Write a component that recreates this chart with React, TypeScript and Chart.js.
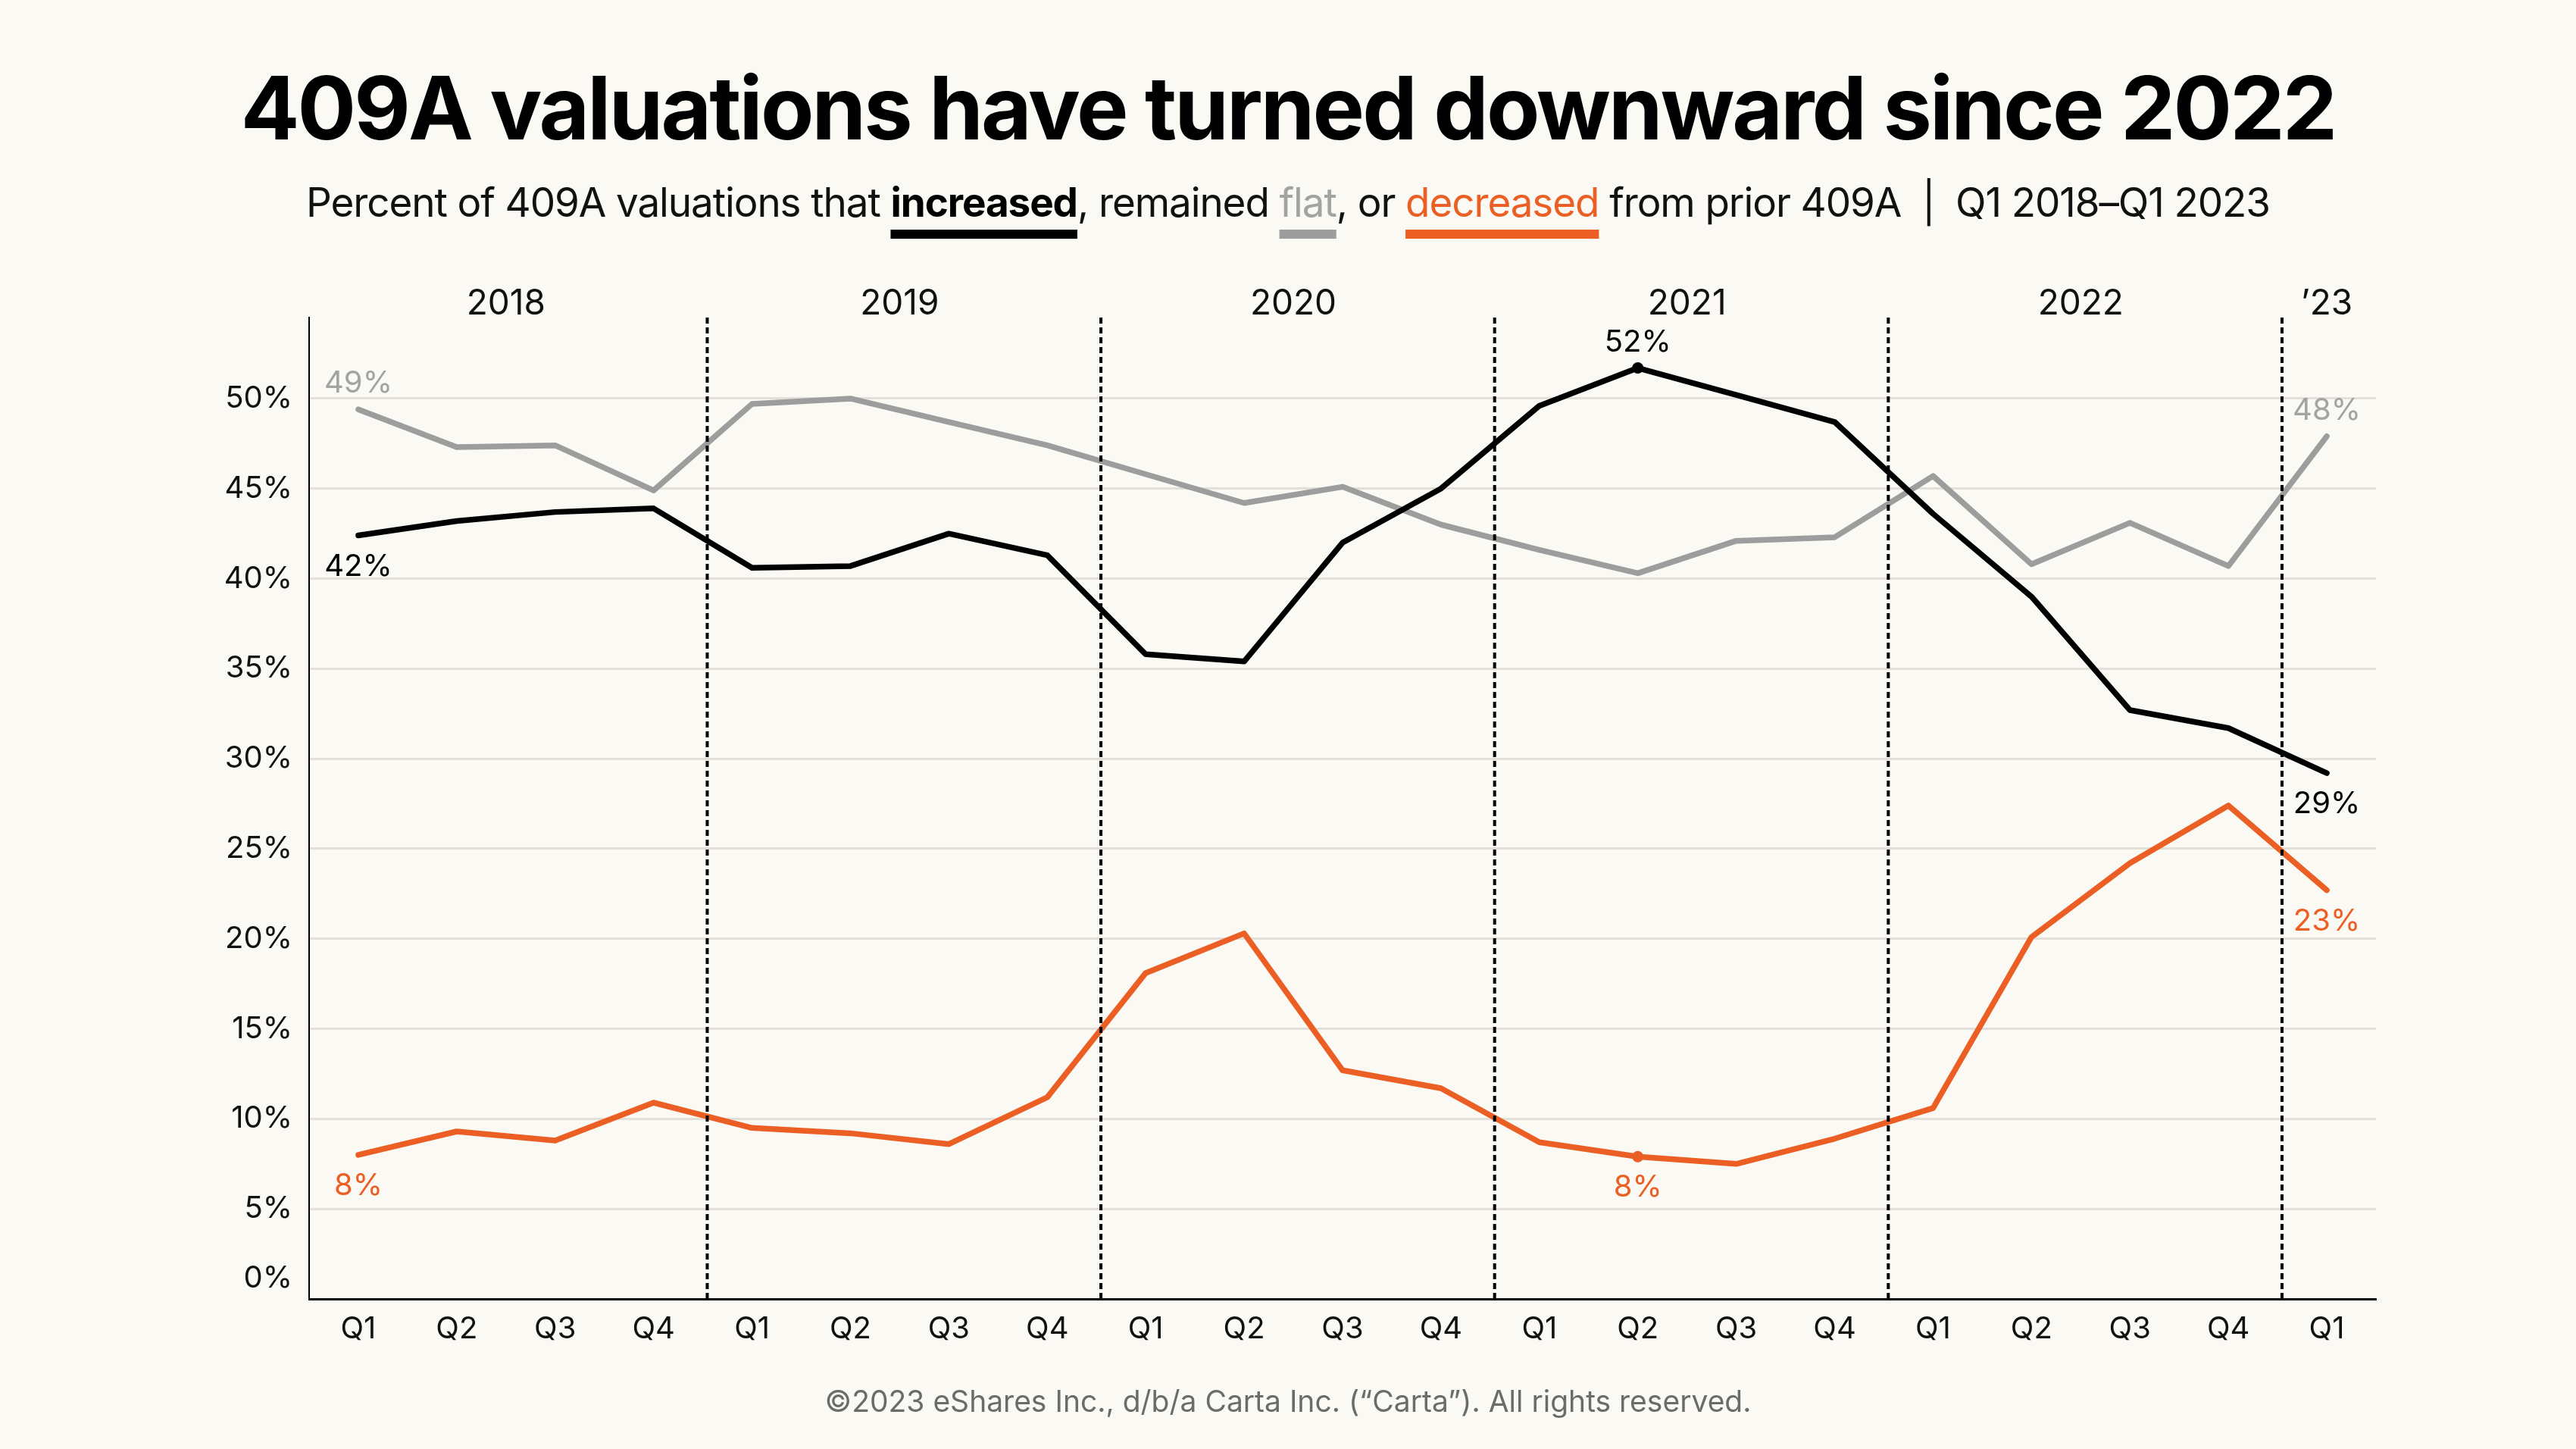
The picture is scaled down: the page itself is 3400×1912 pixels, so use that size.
import React, { useEffect, useRef } from 'react';
import { Chart, registerables } from 'chart.js';

Chart.register(...registerables);

// ---------- data ----------
const quarters = ['Q1', 'Q2', 'Q3', 'Q4', 'Q1', 'Q2', 'Q3', 'Q4', 'Q1', 'Q2', 'Q3', 'Q4', 'Q1', 'Q2', 'Q3', 'Q4', 'Q1', 'Q2', 'Q3', 'Q4', 'Q1'];
const years = ['2018', '2019', '2020', '2021', '2022', '’23'];

const increased = [42.4, 43.2, 43.7, 43.9, 40.6, 40.7, 42.5, 41.3, 35.8, 35.4, 42.0, 45.0, 49.6, 51.7, 50.2, 48.7, 43.6, 39.0, 32.7, 31.7, 29.2];
const flat = [49.4, 47.3, 47.4, 44.9, 49.7, 50.0, 48.7, 47.4, 45.8, 44.2, 45.1, 43.0, 41.6, 40.3, 42.1, 42.3, 45.7, 40.8, 43.1, 40.7, 47.9];
const decreased = [8.0, 9.3, 8.8, 10.9, 9.5, 9.2, 8.6, 11.2, 18.1, 20.3, 12.7, 11.7, 8.7, 7.9, 7.5, 8.9, 10.6, 20.1, 24.2, 27.4, 22.7];

const seriesNames = ['increased', 'flat', 'decreased'];
const markedIndex = 13; // Q2 2021 highlighted point

// [series index, quarter index, text, placement]
const valueLabels: [number, number, string, string][] = [
  [1, 0, '49%', 'above'],
  [0, 0, '42%', 'below'],
  [2, 0, '8%', 'below'],
  [0, 13, '52%', 'above'],
  [2, 13, '8%', 'below'],
  [1, 20, '48%', 'above'],
  [0, 20, '29%', 'below'],
  [2, 20, '23%', 'below'],
];

// ---------- style ----------
const BG = '#fbf9f3';
const BLACK = '#000000';
const GRAY = '#9d9d9d';
const GRAY_TEXT = '#a3a3a3';
const ORANGE = '#eb5f24';
const TEXT = '#111111';
const FONT = 'Inter';

const lineColors = [BLACK, GRAY, ORANGE];
const labelColors = [BLACK, GRAY_TEXT, ORANGE];

const overlayPlugin = {
  id: 'overlay',
  afterDatasetsDraw(chart: any) {
    const ctx = chart.ctx;
    const { left, top, bottom } = chart.chartArea;
    const xs = chart.scales.x;
    const ys = chart.scales.y;
    ctx.save();

    // year separators
    ctx.strokeStyle = '#000';
    ctx.lineWidth = 4;
    ctx.setLineDash([8, 5]);
    for (let k = 1; k < years.length; k++) {
      const i = 4 * k;
      const a = xs.getPixelForValue(i - 1);
      const b = xs.getPixelForValue(i);
      const px = (a + b) / 2 + 0.045 * (b - a);
      ctx.beginPath();
      ctx.moveTo(px, top);
      ctx.lineTo(px, bottom);
      ctx.stroke();
    }
    ctx.setLineDash([]);

    // year labels
    ctx.font = `46px ${FONT}`;
    ctx.fillStyle = TEXT;
    ctx.textAlign = 'center';
    ctx.textBaseline = 'alphabetic';
    years.forEach((yr, k) => {
      const i0 = 4 * k;
      const i1 = Math.min(i0 + 3, quarters.length - 1);
      const cx = (xs.getPixelForValue(i0) + xs.getPixelForValue(i1)) / 2;
      ctx.fillText(yr, cx, top - 4);
    });

    // value labels
    ctx.font = `40px ${FONT}`;
    valueLabels.forEach(([ds, i, text, pos]) => {
      const pt = chart.getDatasetMeta(ds).data[i];
      ctx.fillStyle = labelColors[ds];
      ctx.fillText(text, pt.x, pos === 'above' ? pt.y - 22 : pt.y + 53);
    });

    // 0% tick label (sits slightly above the axis line)
    ctx.fillStyle = TEXT;
    ctx.textAlign = 'right';
    ctx.textBaseline = 'middle';
    ctx.fillText('0%', left - 22, ys.getPixelForValue(0) - 27);
    ctx.restore();
  },
};

function makeDataset(idx: number, values: number[]) {
  const marked = idx !== 1;
  return {
    label: seriesNames[idx],
    data: values,
    borderColor: lineColors[idx],
    backgroundColor: lineColors[idx],
    borderWidth: 7.5,
    tension: 0,
    fill: false,
    borderJoinStyle: 'round' as const,
    borderCapStyle: 'round' as const,
    pointRadius: (c: any) => (marked && c.dataIndex === markedIndex ? 7.5 : 0),
    pointBorderWidth: 0,
    pointBackgroundColor: lineColors[idx],
    pointHoverRadius: 0,
    order: idx === 1 ? 3 : idx === 0 ? 1 : 2,
  };
}

export default function App() {
  const ref = useRef<HTMLCanvasElement>(null);

  useEffect(() => {
    let chart: Chart | null = null;
    let cancelled = false;
    document.body.style.margin = '0';
    document.body.style.background = BG;
    const make = () => {
      if (cancelled || !ref.current) return;
      chart = new Chart(ref.current, {
        type: 'line',
        data: {
          labels: quarters,
          datasets: [makeDataset(0, increased), makeDataset(1, flat), makeDataset(2, decreased)] as any,
        },
        options: {
          responsive: false,
          animation: false,
          devicePixelRatio: 1,
          layout: { padding: { left: 408 - 120, top: 419, right: 3400 - 3136, bottom: 1912 - 1714 - 100 } },
          plugins: {
            legend: { display: false },
            tooltip: { enabled: false },
            title: { display: false },
          },
          scales: {
            x: {
              type: 'category',
              offset: true,
              grid: { display: false, drawTicks: false },
              border: { display: true, color: '#000', width: 3 },
              ticks: {
                color: TEXT,
                font: { family: FONT, size: 40 },
                padding: 16,
                maxRotation: 0,
                autoSkip: false,
              },
              afterFit: (s: any) => {
                s.height = 100;
              },
            },
            y: {
              min: 0,
              max: 54.5,
              grid: { color: '#e3e0d9', lineWidth: 3, drawTicks: false },
              border: { display: true, color: '#000', width: 2 },
              ticks: {
                stepSize: 5,
                includeBounds: false,
                color: TEXT,
                font: { family: FONT, size: 40 },
                padding: 22,
                callback: (v: any) => (Number(v) === 0 ? '' : `${v}%`),
              },
              afterFit: (s: any) => {
                s.width = 120;
              },
            },
          },
        } as any,
        plugins: [overlayPlugin],
      });
    };
    document.fonts.load(`40px ${FONT}`).then(make, make);
    return () => {
      cancelled = true;
      if (chart) chart.destroy();
    };
  }, []);

  const under = (color: string) => ({
    textDecorationLine: 'underline',
    textDecorationColor: color,
    textDecorationThickness: '12px',
    textUnderlineOffset: '17px',
    textDecorationSkipInk: 'none',
  } as React.CSSProperties);

  return (
    <div style={{ position: 'absolute', left: 0, top: 0, width: 3400, height: 1912, background: BG, overflow: 'hidden', fontFamily: FONT }}>
      <canvas ref={ref} width={3400} height={1912} style={{ position: 'absolute', left: 0, top: 0, width: 3400, height: 1912 }} />
      <div style={{ position: 'absolute', left: 0, top: 85, width: 3400, textAlign: 'center', fontSize: 115, lineHeight: '115px', fontWeight: 700, color: '#000', letterSpacing: '-2.85px', whiteSpace: 'pre' }}>
        409A valuations have turned downward since 2022
      </div>
      <div style={{ position: 'absolute', left: 0, top: 241, width: 3400, textAlign: 'center', fontSize: 53, lineHeight: '53px', fontWeight: 400, color: TEXT, letterSpacing: '-1.1px', whiteSpace: 'pre' }}>
        {'Percent of 409A valuations that '}
        <span style={{ ...under('#000'), fontWeight: 700, color: '#000' }}>increased</span>
        {', remained '}
        <span style={{ ...under(GRAY), color: GRAY_TEXT }}>flat</span>
        {', or '}
        <span style={{ ...under(ORANGE), color: ORANGE }}>decreased</span>
        {' from prior 409A  |  Q1 2018–Q1 2023'}
      </div>
      <div style={{ position: 'absolute', left: 0, top: 1830, width: 3400, textAlign: 'center', fontSize: 39, lineHeight: '38px', color: '#6b6b6b', whiteSpace: 'pre' }}>
        ©2023 eShares Inc., d/b/a Carta Inc. (“Carta”). All rights reserved.
      </div>
    </div>
  );
}
